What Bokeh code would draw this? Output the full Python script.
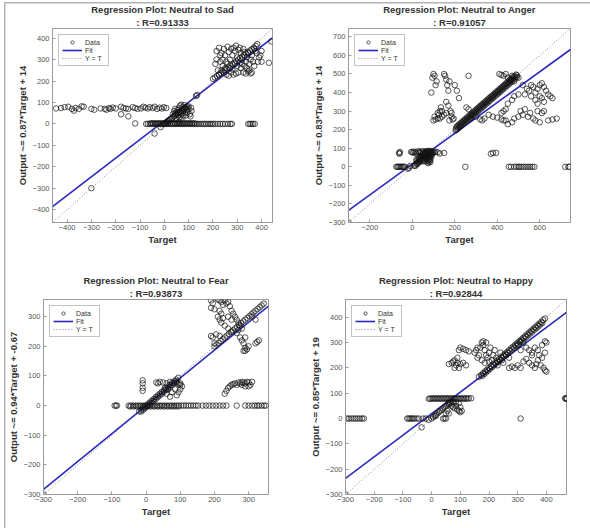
from bokeh.plotting import figure
from bokeh.layouts import column, row
from bokeh.models import Range1d, FixedTicker, Legend, LegendItem, Title
from bokeh.embed import file_html
from bokeh.resources import INLINE

# ---------------- data ----------------
# Panel 1: Neutral to Sad
sad_x = [-445, -425, -410, -395, -380, -372, -365, -352, -340, -332, -300, -288, -262, -245, -238, -228, -222, -212,
         -200, -178, -168, -158, -148, -130, -120, -110, -96, -86, -78, -68, -60, -48, -40, -30, -20, -10, -2, 8,
         -178, -148, -120, -40, -15, -300,
         -75, -68, -60, -52, -45, -38, -30, -22, -15, -8, 0, 8, 15, 22, 30, 38, 45, 52, 60, 68, 75, 82, 90, 98, 105,
         112, 120, 128, 135, 142, 150, 158, 165, 172, 180, 188, 195, 202, 210, 220, 230, 240, 250, 262, 272, 278,
         345, 352, 358, 365, 372,
         -56, -46, -36, -26, -16, -6, 4, 14, 24, 34, 44, 54, 64, 74, 84, 94, 104, 114, 124,
         0, 5, 10, 15, 20, 25, 30, 35, 40, 45, 50, 55, 60, 65, 70, 75, 80, 85, 90, 95, 100,
         40, 45, 50, 55, 58, 60, 62, 65, 68, 70, 72, 75, 78, 80, 82, 85, 88, 90, 92, 95, 100, 105, 108, 110, 112,
         50, 45, 35, 70, 60, 130, 135,
         200, 208, 216, 224, 232, 240, 248, 256, 264, 272, 280, 288, 296, 304, 312, 320, 328, 336, 344, 352, 360,
         368, 376, 382,
         215, 225, 235, 240, 245, 250, 255, 260, 265, 270, 275, 280, 285, 290, 295, 300, 305, 310, 315, 320, 325,
         330, 335, 340, 345, 350, 355, 360, 365, 370, 375, 380, 390, 395, 400, 230, 240, 250, 220, 210, 215, 225,
         235, 245, 255, 265, 275, 285, 295, 305, 315, 325, 335, 345, 355, 360, 370, 385, 290, 300, 270, 280, 230,
         260, 310, 320, 330, 340, 350, 430, 440, 400]
sad_y = [72, 74, 78, 80, 70, 62, 74, 70, 82, 80, 70, 66, 72, 70, 66, 74, 70, 76,
         72, 80, 74, 72, 70, 78, 74, 70, 72, 80, 76, 72, 78, 74, 80, 70, 76, 72, 78, 74,
         45, 35, 2, -45, -15, -300,
         0, 0, 0, 0, 0, 0, 0, 0, 0, 0, 0, 0, 0, 0, 0, 0, 0, 0, 0, 0, 0, 0, 0, 0, 0,
         0, 0, 0, 0, 0, 0, 0, 0, 0, 0, 0, 0, 0, 0, 0, 0, 0, 0, 0, 0, 0,
         0, 0, 0, 0, 0,
         3, 3, 3, 3, 3, 3, 3, 3, 3, 3, 3, 3, 3, 3, 3, 3, 3, 3, 3,
         0, 4, 9, 13, 17, 22, 26, 30, 35, 39, 43, 48, 52, 57, 61, 65, 70, 74, 78, 80, 82,
         60, 70, 55, 65, 40, 75, 30, 85, 50, 90, 45, 78, 35, 60, 88, 50, 72, 40, 65, 55, 70, 45, 35, 75, 60,
         25, 50, 45, 20, 10, 130, 135,
         210, 216, 223, 230, 237, 244, 251, 258, 265, 272, 279, 286, 293, 300, 307, 314, 321, 328, 335, 342, 349,
         356, 364, 372,
         340, 355, 330, 300, 350, 320, 290, 360, 335, 300, 350, 320, 355, 340, 365, 310, 345, 355, 330, 300, 350,
         335, 290, 310, 330, 280, 300, 320, 290, 350, 340, 330, 310, 320, 340, 290, 270, 260, 250, 280, 300, 230,
         250, 240, 230, 225, 240, 230, 235, 240, 260, 240, 235, 245, 235, 240, 270, 290, 280, 270, 260, 255, 320,
         280, 285, 280, 270, 260, 250, 285, 385, 290]
sad_lim = [-460, 445]
sad_fit_x = [-460, 445]
sad_fit_y = [-386, 401]
sad_xticks = [-400, -300, -200, -100, 0, 100, 200, 300, 400]
sad_yticks = [-400, -300, -200, -100, 0, 100, 200, 300, 400]

# Panel 2: Neutral to Anger
anger_x = [-75, -70, -65, -60, -55, -50, -45, -40, -35, -62, -60, -58,
           -20, -15, -10, -5, 0, 5, 10, 15, 20, 25, 30, 35, 40, 45, 50, 55, 60, 65, 70, 75, 80, 85, 90, 95, 100,
           105, 110, 120, 130, 150,
           10, 15, 20, 25, 30, 35, 40, 45, 50, 55, 60, 65, 70, 75, 80, 80, 80, 85, 85, 85, 90, 90, 60, 70, 75, 50,
           40, 30, 20,
           30, 35, 40, 45, 50, 55, 60, 65, 70, 75, 80, 85, 90, 95, 85, 75, 70, 65, 55, 45, 35, 25, 15, 20, 50, 60,
           70, 80, 90,
           250, 455, 465, 480, 490, 500, 505, 515, 525, 535, 545, 555, 565, 575, 720, 735, 740, 370, 380, 395,
           205, 213, 221, 229, 237, 245, 253, 261, 269, 277, 285, 293, 301, 309, 317, 325, 333, 341, 349, 357, 365,
           373, 381, 389, 397, 405, 413, 421, 429, 437, 445, 453, 461, 469, 477, 485, 493,
           205, 213, 221, 229, 237, 245, 253, 261, 269, 277, 285, 293, 301, 309, 317, 325, 333, 341, 349, 357, 365,
           373, 381, 389, 397, 405, 413, 421, 429, 437, 445, 453, 461, 469, 477, 485, 493,
           209, 217, 225, 233, 241, 249, 257, 265, 273, 281, 289, 297, 305, 313, 321, 329, 337, 345, 353, 361, 369,
           377, 385, 393, 401, 409, 417, 425, 433, 441, 449, 457, 465, 473, 481, 489,
           90, 95, 100, 105, 110, 115, 100, 110, 120, 125, 130, 135, 140, 150, 155, 160, 165, 170, 175, 160, 170,
           180, 185, 190, 195, 200, 210, 220, 160, 150, 140, 130, 120, 175, 185, 105, 265, 255, 265, 275, 280, 300,
           320, 330, 340, 360, 380, 400, 420, 430,
           410, 420, 430, 440, 450, 460, 470, 480, 500, 520, 540, 550, 560, 570, 580, 590, 600, 610, 620, 630, 640,
           650, 660, 600, 610, 620, 590, 580, 560, 530, 500, 480, 470, 450, 440, 430, 420, 440, 450, 470, 480, 500,
           510, 520, 530, 545, 555, 570, 580, 600, 620, 640, 660, 680, 610, 590, -300]
anger_y = [0, 0, 0, 0, 0, 0, 0, 0, 0, 75, 70, 80,
           -10, -5, 5, 80, 80, 75, 82, 78, 70, 80, 85, 75, 80, 60, 85, 78, 70, 82, 75, 85, 80, 78, 82, 76, 80,
           78, 82, 78, 72, 75,
           5, 12, 18, 22, 28, 33, 38, 42, 48, 52, 58, 62, 68, 72, 30, 40, 50, 25, 35, 45, 55, 65, 30, 40, 20, 30,
           55, 50, 40,
           40, 45, 50, 55, 60, 65, 70, 75, 60, 55, 65, 70, 75, 70, 60, 35, 25, 50, 40, 35, 25, 15, 5, 30, 70, 80,
           85, 85, 85,
           0, 0, 0, 0, 0, 0, 0, 0, 0, 0, 0, 0, 0, 0, 0, 0, 0, 70, 75, 75,
           205, 213, 221, 229, 237, 245, 253, 261, 269, 277, 285, 293, 301, 309, 317, 325, 333, 341, 349, 357, 365,
           373, 381, 389, 397, 405, 413, 421, 429, 437, 445, 453, 461, 469, 477, 485, 493,
           195, 203, 211, 219, 227, 235, 243, 251, 259, 267, 275, 283, 291, 299, 307, 315, 323, 331, 339, 347, 355,
           363, 371, 379, 387, 395, 403, 411, 419, 427, 435, 443, 451, 459, 467, 475, 483,
           217, 225, 233, 241, 249, 257, 265, 273, 281, 289, 297, 305, 313, 321, 329, 337, 345, 353, 361, 369, 377,
           385, 393, 401, 409, 417, 425, 433, 441, 449, 457, 465, 473, 481, 489, 497,
           400, 480, 500, 490, 440, 460, 250, 255, 260, 280, 300, 320, 270, 500, 490, 470, 440, 410, 460, 350, 330,
           300, 270, 255, 260, 440, 410, 370, 290, 280, 300, 260, 290, 250, 290, 270, 490, 320, 310, 260, 280, 270,
           255, 250, 260, 280, 270, 265, 255, 250,
           500, 495, 490, 500, 480, 470, 490, 460, 480, 440, 420, 410, 440, 430, 400, 420, 440, 450, 430, 410, 390,
           380, 370, 380, 370, 350, 340, 360, 380, 390, 390, 380, 360, 340, 310, 300, 290, 250, 230, 240, 260, 270,
           300, 280, 310, 270, 290, 260, 250, 240, 300, 250, 255, 260, 290, 300, -300]
anger_lim = [-300, 745]
anger_fit_x = [-300, 745]
anger_fit_y = [-235, 632]
anger_xticks = [-200, 0, 200, 400, 600]
anger_yticks = [-300, -200, -100, 0, 100, 200, 300, 400, 500, 600, 700]

# Panel 3: Neutral to Fear
fear_x = [-92, -88, -85,
          -51, -44, -37, -30, -23, -16, -9, -2, 5, 12, 19, 26, 33, 40, 47, 54, 61, 68, 75, 82, 89, 96, 103, 110,
          117, 124, 131, 138, 145, 152,
          -47, -37, -27, -17, -7, 3, 13, 23, 33, 43, 53, 63, 73, 83, 93,
          165, 175, 185, 195, 205, 215, 225, 235, 265, 290, 300, 310, 318, 325, 330, 338, 345, 350,
          -10, -10, -10, -10,
          -20, -14, -8, -2, 4, 10, 16, 22, 28, 34, 40, 46, 52, 58, 64, 70, 76, 82, 88, 94,
          -14, -8, -2, 4, 10, 16, 22, 28, 34, 40, 46, 52, 58, 64, 70, 76, 82, 88,
          30, 35, 40, 50, 60, 70, 80, 90, 95, 100, 100, 95, 90, 85, 75, 65, 55, 60, 70, 100, 105,
          230, 235, 240, 245, 250, 255, 260, 265, 270, 275, 280, 285, 290, 295, 300, 305, 310, 300, 290, 280,
          200, 206, 212, 218, 224, 230, 236, 242, 248, 254, 260, 266, 272, 278, 284, 290, 296, 302, 308, 314, 320,
          326, 332, 338, 344,
          190, 195, 190, 210, 215, 220, 225, 230, 235, 240, 245, 250, 255, 260, 265, 270, 275, 280, 270, 265, 275,
          280, 285, 290, 295, 285, 290, 210, 215, 220, 225, 230, 240, 250, 220, 215, 200, 190, 195, 205, 215, 200,
          250, 240, 300, 290, 310, 320, 325, 330, 320, -300]
fear_y = [0, 0, 0,
          0, 0, 0, 0, 0, 0, 0, 0, 0, 0, 0, 0, 0, 0, 0, 0, 0, 0, 0, 0, 0, 0, 0, 0,
          0, 0, 0, 0, 0, 0,
          -3, -3, -3, -3, -3, -3, -3, -3, -3, -3, -3, -3, -3, -3, -3,
          0, 0, 0, 0, 0, 0, 0, 0, 0, 0, 0, 0, 0, 0, 0, 0, 0, 0,
          85, 75, 60, 50,
          -20, -14, -8, -2, 4, 10, 16, 22, 28, 34, 40, 46, 52, 58, 64, 70, 76, 82, 88, 94,
          -20, -14, -8, -2, 4, 10, 16, 22, 28, 34, 40, 46, 52, 58, 64, 70, 76, 82,
          78, 75, 80, 78, 75, 80, 76, 78, 72, 70, 55, 45, 35, 55, 45, 55, 60, 40, 30, 75, 65,
          40, 50, 60, 65, 70, 72, 75, 70, 78, 75, 80, 78, 75, 80, 78, 70, 80, 65, 65, 70,
          200, 206, 212, 218, 224, 230, 236, 242, 248, 254, 260, 266, 272, 278, 284, 290, 296, 302, 308, 314, 320,
          326, 332, 338, 344,
          355, 345, 330, 358, 355, 350, 340, 355, 345, 350, 335, 320, 310, 300, 290, 280, 270, 260, 255, 245, 230,
          220, 210, 195, 190, 185, 185, 300, 290, 280, 295, 270, 300, 290, 310, 320, 325, 235, 230, 240, 235, 210,
          250, 260, 200, 230, 300, 290, 215, 220, 210, -300]
fear_lim = [-300, 358]
fear_fit_x = [-300, 358]
fear_fit_y = [-283, 336]
fear_xticks = [-300, -200, -100, 0, 100, 200, 300]
fear_yticks = [-300, -200, -100, 0, 100, 200, 300]

# Panel 4: Neutral to Happy
happy_x = [-295, -288, -280, -272, -265, -258, -250, -242, -236,
           -85, -80, -75, -70, -65, -60, -52, -45, -30, -20, -35, -10, 0, 5, 14, 40, 45, 50, 310,
           -10, -5, 0, 5, 10, 15, 20, 25, 30, 35, 40, 45, 50, 55, 60, 65, 70, 75, 80, 85, 90, 95, 100, 105, 110, 115,
           120, 125, 130, 138,
           10, 15, 20, 25, 30, 35, 40, 45, 50, 55, 60, 65, 70,
           60, 65, 70, 75, 80, 85, 90, 95, 100, 100, 105, 95, 85, 75, 55, 50, 60,
           465, 468, 470, 472,
           165, 172, 179, 186, 193, 200, 207, 214, 221, 228, 235, 242, 249, 256, 263, 270, 277, 284, 291, 298, 305,
           312, 319, 326, 333, 340, 347, 354, 361, 368, 375, 382, 389, 395,
           176, 183, 190, 197, 204, 211, 218, 225, 232, 239, 246, 253, 260, 267, 274, 281, 288, 295, 302, 309, 316,
           323, 330, 337, 344, 351, 358, 365, 372, 379, 386,
           60, 70, 75, 80, 85, 90, 95, 100, 110, 120, 90, 80,
           95, 100, 110, 120, 130,
           150, 155, 160, 165, 170, 175, 180, 185, 190, 195, 200, 205, 210, 215, 220, 225, 230, 240, 245, 250, 260,
           270, 190, 180, 160, 175, 185, 200,
           270, 280, 290, 300, 310, 320, 330, 340, 350, 360, 365, 370, 380, 390, 395, 400, 385, 395, 400, 395, 385,
           370, 350, 340, 330, 320, 310, 300, 310, 360, 375, 350, -300]
happy_y = [0, 0, 0, 0, 0, 0, 0, 0, 0,
           0, 0, 0, 0, 0, 0, 0, 0, 0, 0, -35, -5, 0, 5, 10, 0, 0, 0, 0,
           78, 78, 80, 78, 80, 78, 80, 78, 80, 78, 80, 78, 80, 78, 80, 78, 80, 78, 80, 78, 80, 78, 80, 78, 80, 78,
           80, 78, 80, 80,
           10, 15, 20, 25, 30, 35, 40, 45, 50, 55, 60, 65, 70,
           55, 60, 50, 45, 40, 50, 35, 30, 25, 45, 30, 60, 65, 65, 30, 20, 20,
           80, 78, 80, 78,
           165, 172, 179, 186, 193, 200, 207, 214, 221, 228, 235, 242, 249, 256, 263, 270, 277, 284, 291, 298, 305,
           312, 319, 326, 333, 340, 347, 354, 361, 368, 375, 382, 389, 395,
           168, 175, 182, 189, 196, 203, 210, 217, 224, 231, 238, 245, 252, 259, 266, 273, 280, 287, 294, 301, 308,
           315, 322, 329, 336, 343, 350, 357, 364, 371, 378,
           215, 220, 225, 230, 210, 220, 200, 215, 220, 210, 240, 200,
           270, 280, 275, 270, 265,
           260, 270, 240, 250, 280, 300, 290, 270, 250, 240, 260, 280, 230, 250, 270, 240, 210, 260, 230, 220, 250,
           240, 300, 305, 280, 230, 220, 225,
           200, 205, 200, 210, 200, 225, 235, 220, 210, 200, 215, 230, 210, 200, 190, 185, 240, 260, 300, 305, 290,
           270, 260, 270, 280, 300, 305, 290, 270, 280, 250, 250, -300]
happy_lim = [-300, 470]
happy_fit_x = [-300, 470]
happy_fit_y = [-236, 419]
happy_xticks = [-300, -200, -100, 0, 100, 200, 300, 400]
happy_yticks = [-300, -200, -100, 0, 100, 200, 300, 400]

FONT = "Liberation Sans"


def panel(name, r_text, ylabel, xs, ys, lim, fx, fy, xticks, yticks, borders):
    left, right, top, bottom = borders
    p = figure(width=295, height=264, output_backend="svg", toolbar_location=None,
               x_range=Range1d(lim[0], lim[1]), y_range=Range1d(lim[0], lim[1]),
               min_border_left=left, min_border_right=right, min_border_top=top, min_border_bottom=bottom,
               background_fill_color="white", border_fill_color=None)
    p.add_layout(Title(text=": " + r_text, align="center", text_font=FONT, text_font_size="9.5px",
                       text_font_style="bold", text_color="#333333", standoff=1, offset=0), "above")
    p.add_layout(Title(text="Regression Plot: " + name, align="center", text_font=FONT, text_font_size="9.5px",
                       text_font_style="bold", text_color="#333333", standoff=0, offset=0), "above")
    p.grid.visible = False
    p.outline_line_color = "#9a9a9a"
    for ax in (p.xaxis[0], p.yaxis[0]):
        ax.axis_line_color = "#9a9a9a"
        ax.major_tick_line_color = "#9a9a9a"
        ax.major_tick_in = 3
        ax.major_tick_out = 0
        ax.minor_tick_line_color = None
        ax.major_label_text_font = FONT
        ax.major_label_text_font_size = "7.5px"
        ax.major_label_text_color = "#555555"
        ax.axis_label_text_font = FONT
        ax.axis_label_text_font_style = "bold"
        ax.axis_label_text_color = "#333333"
    p.xaxis[0].ticker = FixedTicker(ticks=xticks)
    p.yaxis[0].ticker = FixedTicker(ticks=yticks)
    p.xaxis[0].axis_label = "Target"
    p.xaxis[0].axis_label_text_font_size = "9.5px"
    p.xaxis[0].major_label_standoff = 2
    p.xaxis[0].axis_label_standoff = 1
    p.yaxis[0].axis_label = ylabel
    p.yaxis[0].axis_label_text_font_size = "9.5px"
    p.yaxis[0].major_label_standoff = 3
    p.yaxis[0].axis_label_standoff = 2

    yt = p.line(x=lim, y=lim, line_color="#8a8a8a", line_width=1, line_dash="1 2")
    fit = p.line(x=fx, y=fy, line_color="#2a2ac0", line_width=1.6)
    data = p.scatter(x=xs, y=ys, marker="circle", size=5.5, fill_color=None,
                     line_color="#111111", line_width=0.7)
    leg = Legend(items=[LegendItem(label="Data", renderers=[data]),
                        LegendItem(label="Fit", renderers=[fit]),
                        LegendItem(label="Y = T", renderers=[yt])],
                 location="top_left", label_text_font=FONT, label_text_font_size="7px",
                 label_text_color="#333333", label_height=7, glyph_height=8, glyph_width=20,
                 label_standoff=3, spacing=0, padding=3, margin=6,
                 border_line_color="#888888", border_line_width=1, background_fill_alpha=1)
    p.add_layout(leg)
    return p


p1 = panel("Neutral to Sad", "R=0.91333", "Output ~= 0.87*Target + 14", sad_x, sad_y, sad_lim,
           sad_fit_x, sad_fit_y, sad_xticks, sad_yticks, (52, 23, 28, 39))
p2 = panel("Neutral to Anger", "R=0.91057", "Output ~= 0.83*Target + 14", anger_x, anger_y, anger_lim,
           anger_fit_x, anger_fit_y, anger_xticks, anger_yticks, (53, 20, 27, 42))
p3 = panel("Neutral to Fear", "R=0.93873", "Output ~= 0.94*Target + -0.67", fear_x, fear_y, fear_lim,
           fear_fit_x, fear_fit_y, fear_xticks, fear_yticks, (43, 27, 33, 34))
p4 = panel("Neutral to Happy", "R=0.92844", "Output ~= 0.85*Target + 19", happy_x, happy_y, happy_lim,
           happy_fit_x, happy_fit_y, happy_xticks, happy_yticks, (50, 24, 35, 33))

frame_bg = ("linear-gradient(#b4b4b4, #b4b4b4) 4px 2px / 1.5px 526px no-repeat, "
            "linear-gradient(#b4b4b4, #b4b4b4) 4px 2px / 586px 1.5px no-repeat, white")
layout = column(row(p1, p2, spacing=0), row(p3, p4, spacing=0), spacing=0,
                styles={"background": frame_bg})

open("out.html", "w").write(file_html(layout, INLINE))
